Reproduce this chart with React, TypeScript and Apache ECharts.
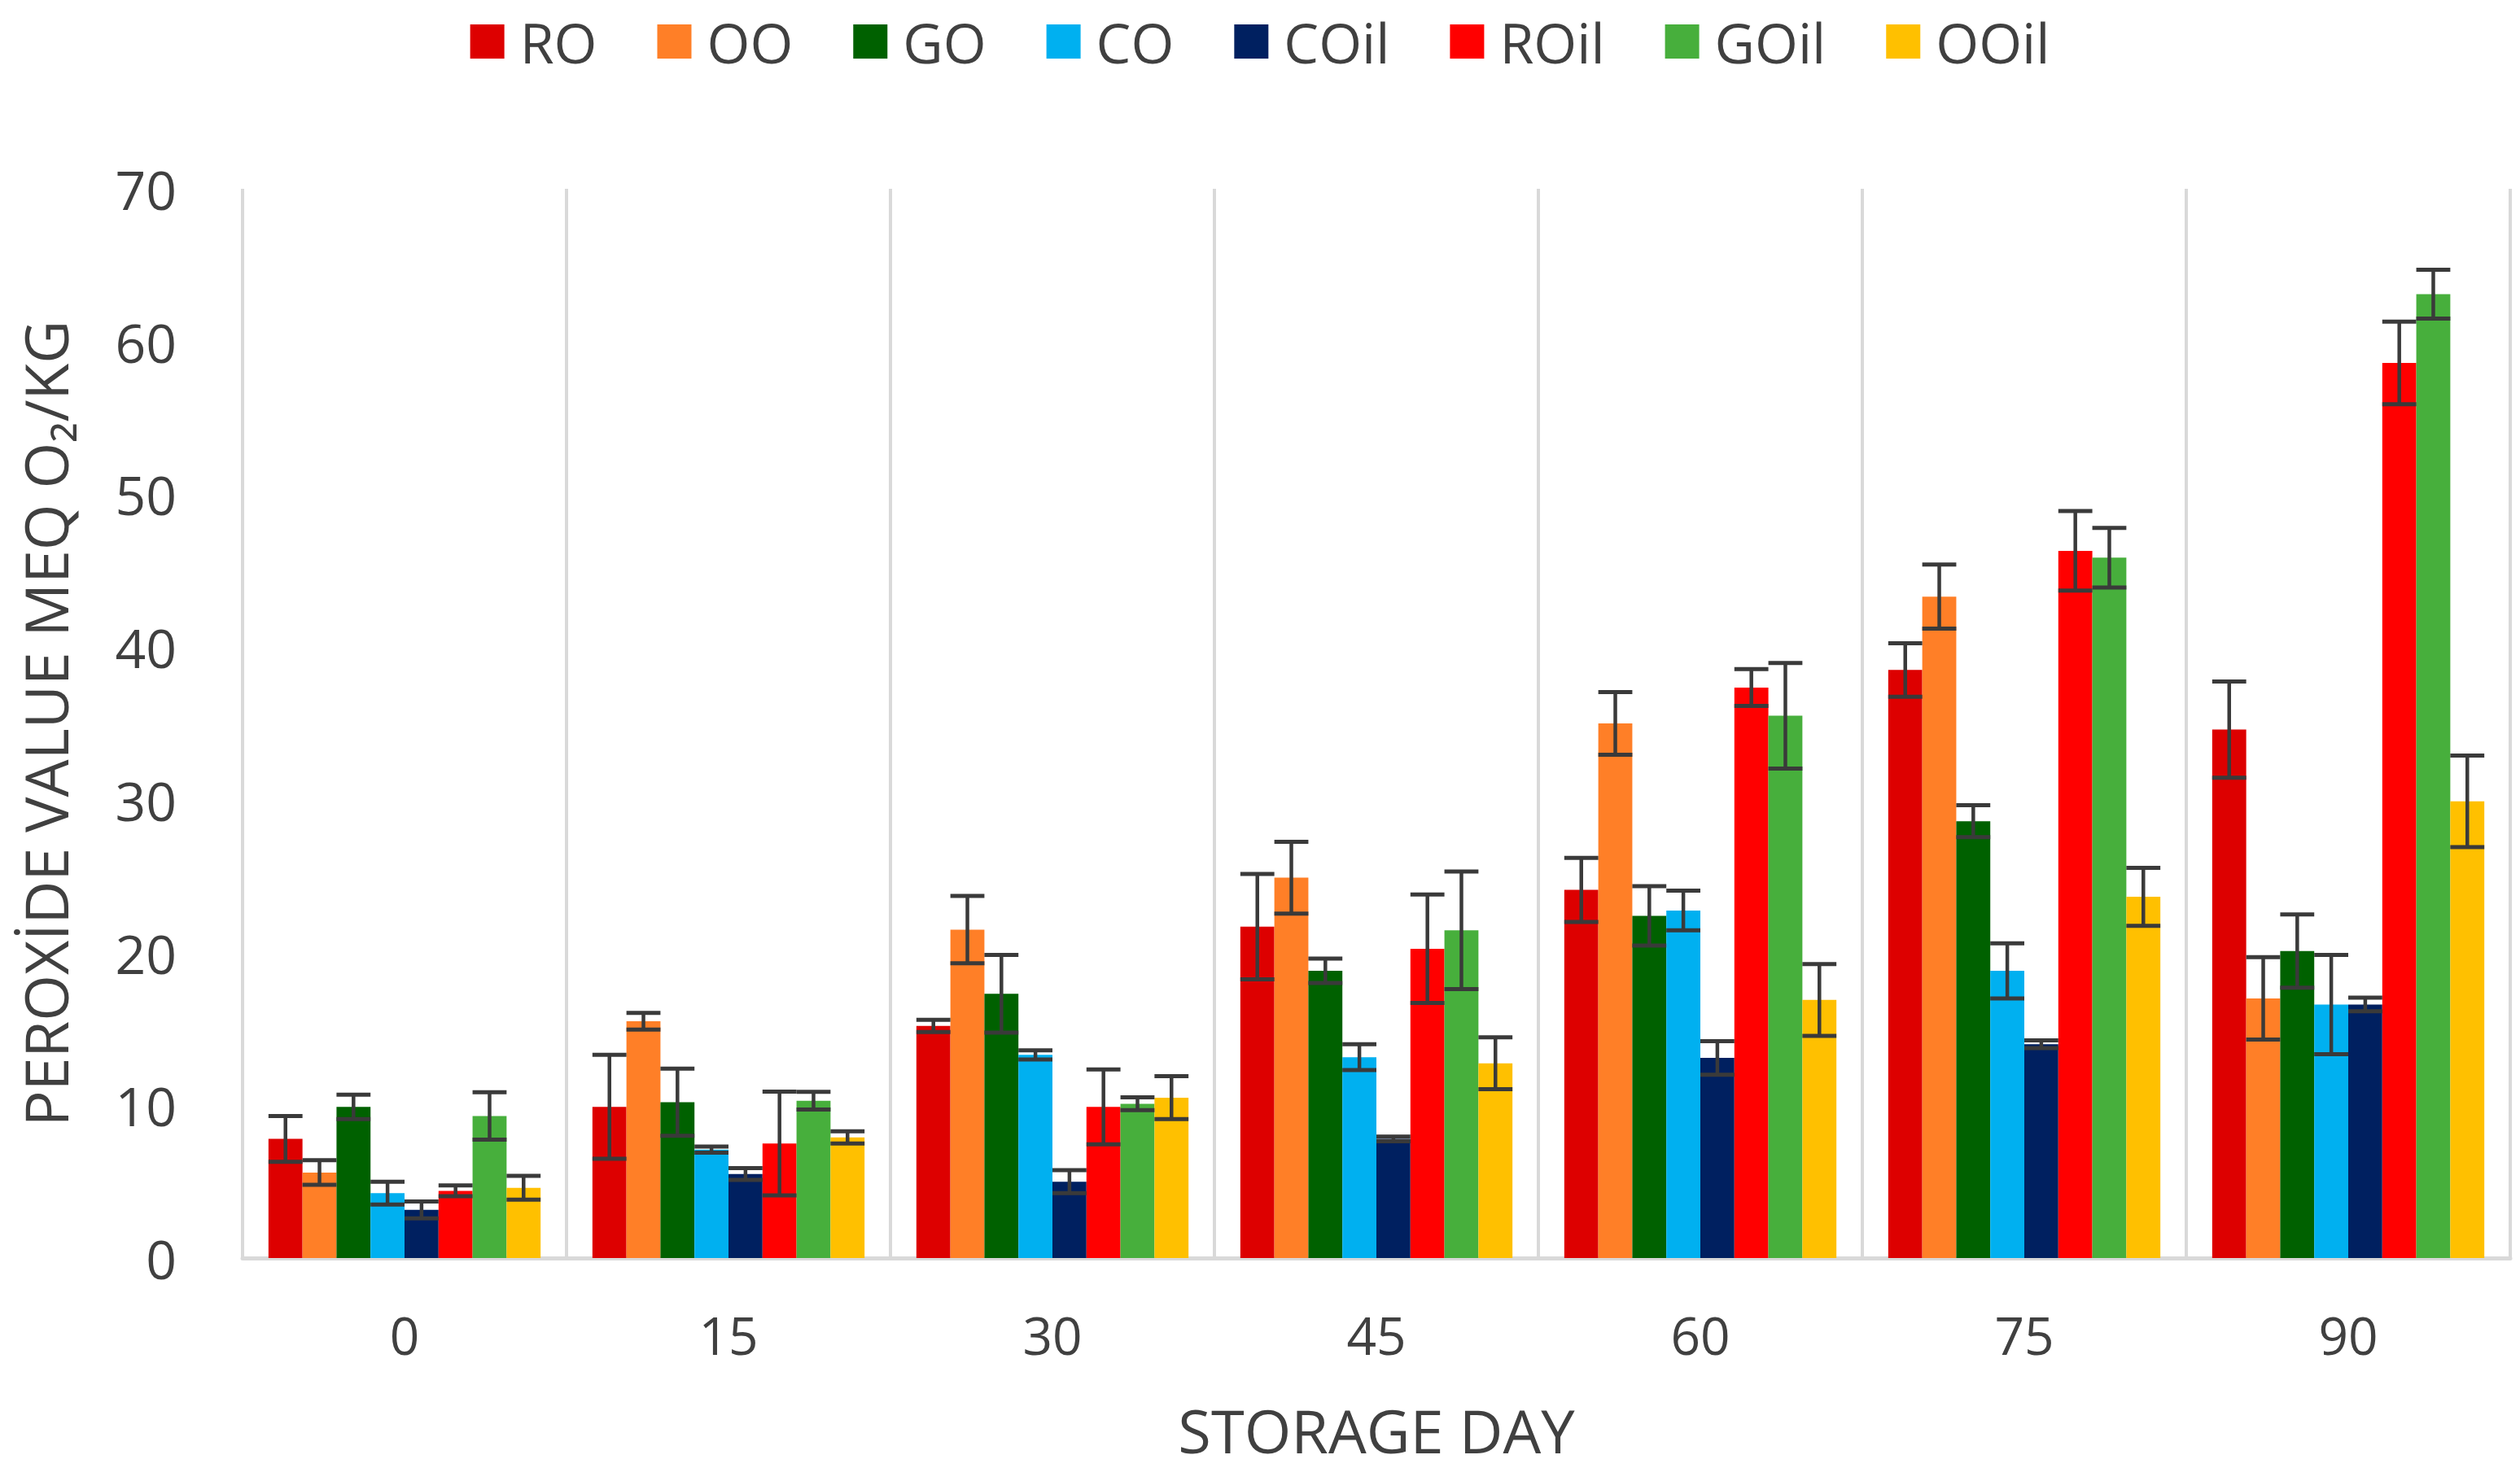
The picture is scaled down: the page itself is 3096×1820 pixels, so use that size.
import React, { useEffect, useRef } from 'react';
import * as echarts from 'echarts';

const categories = ['0', '15', '30', '45', '60', '75', '90'];
const seriesNames = ['RO', 'OO', 'GO', 'CO', 'COil', 'ROil', 'GOil', 'OOil'];
const colors = ['#DD0000', '#FF7F27', '#006100', '#00B0F0', '#002060', '#FF0000', '#47AF3C', '#FFC000'];

const RO = [7.8, 9.9, 15.2, 21.7, 24.1, 38.5, 34.6];
const OO = [5.6, 15.5, 21.5, 24.9, 35.0, 43.3, 17.0];
const GO = [9.9, 10.2, 17.3, 18.8, 22.4, 28.6, 20.1];
const CO = [4.25, 7.1, 13.3, 13.15, 22.75, 18.8, 16.6];
const COil = [3.15, 5.5, 5.0, 7.8, 13.1, 14.0, 16.6];
const ROil = [4.4, 7.5, 9.9, 20.25, 37.35, 46.3, 58.6];
const GOil = [9.3, 10.3, 10.1, 21.45, 35.5, 45.85, 63.1];
const OOil = [4.6, 7.9, 10.5, 12.75, 16.9, 23.65, 29.9];

const RO_err = [1.5, 3.4, 0.4, 3.45, 2.1, 1.75, 3.15];
const OO_err = [0.8, 0.55, 2.2, 2.35, 2.05, 2.1, 2.7];
const GO_err = [0.8, 2.2, 2.55, 0.8, 1.95, 1.05, 2.4];
const CO_err = [0.75, 0.2, 0.3, 0.85, 1.3, 1.8, 3.25];
const COil_err = [0.55, 0.38, 0.75, 0.15, 1.1, 0.25, 0.45];
const ROil_err = [0.35, 3.4, 2.45, 3.55, 1.2, 2.6, 2.7];
const GOil_err = [1.55, 0.58, 0.42, 3.85, 3.45, 1.95, 1.6];
const OOil_err = [0.78, 0.4, 1.4, 1.7, 2.35, 1.9, 3.0];

const yTicks = { min: 0, max: 70, interval: 10 };

const values = [RO, OO, GO, CO, COil, ROil, GOil, OOil];
const errors = [RO_err, OO_err, GO_err, CO_err, COil_err, ROil_err, GOil_err, OOil_err];

const FONT = "'Open Sans', sans-serif";
const TEXT = '#404040';
const CAT_GAP = 0.16;

export default function App() {
  const ref = useRef<HTMLDivElement>(null);
  useEffect(() => {
    const chart = echarts.init(ref.current!, null, { renderer: 'svg' });
    const n = seriesNames.length;
    const barSeries = seriesNames.map((name, i) => ({
      name,
      type: 'bar',
      data: values[i],
      itemStyle: { color: colors[i] },
      barGap: '0%',
      barCategoryGap: CAT_GAP * 100 + '%',
      z: 2,
    }));
    const errData: number[][] = [];
    seriesNames.forEach((_, s) =>
      categories.forEach((_, c) => errData.push([c, values[s][c], errors[s][c], s]))
    );
    const errSeries = {
      type: 'custom',
      name: 'errorbars',
      data: errData,
      encode: { x: 0, y: 1 },
      z: 10,
      silent: true,
      renderItem: (params: any, api: any) => {
        const c = api.value(0);
        const v = api.value(1);
        const e = api.value(2);
        const s = api.value(3);
        const band = api.size([1, 0])[0];
        const groupW = band * (1 - CAT_GAP);
        const bw = groupW / n;
        const center = api.coord([c, v]);
        const x = center[0] - groupW / 2 + bw * (s + 0.5);
        const yTop = api.coord([c, v + e])[1];
        const yBot = api.coord([c, v - e])[1];
        const half = bw / 2;
        const stroke = '#3a3a3a';
        return {
          type: 'group',
          children: [
            { type: 'line', shape: { x1: x, y1: yTop, x2: x, y2: yBot }, style: { stroke, lineWidth: 4.5 } },
            { type: 'line', shape: { x1: x - half, y1: yTop, x2: x + half, y2: yTop }, style: { stroke, lineWidth: 5 } },
            { type: 'line', shape: { x1: x - half, y1: yBot, x2: x + half, y2: yBot }, style: { stroke, lineWidth: 5 } },
          ],
        };
      },
    };
    chart.setOption({
      animation: false,
      backgroundColor: '#ffffff',
      textStyle: { fontFamily: FONT },
      legend: {
        data: seriesNames,
        top: 12,
        left: 'center',
        icon: 'rect',
        itemWidth: 42,
        itemHeight: 42,
        itemGap: 74,
        textStyle: { fontSize: 68, color: TEXT, fontFamily: FONT, padding: [0, 0, 0, 14] },
      },
      grid: { left: 298, right: 12, top: 232, bottom: 274, containLabel: false },
      xAxis: {
        type: 'category',
        data: categories,
        axisLine: { show: true, lineStyle: { color: '#d9d9d9', width: 5 } },
        axisTick: { show: false },
        axisLabel: { fontSize: 64, color: TEXT, margin: 62, fontFamily: FONT },
        splitLine: { show: true, lineStyle: { color: '#d9d9d9', width: 4 } },
        name: 'STORAGE DAY',
        nameLocation: 'middle',
        nameGap: 174,
        nameTextStyle: { fontSize: 74, color: TEXT, fontFamily: FONT },
      },
      yAxis: {
        type: 'value',
        min: yTicks.min,
        max: yTicks.max,
        interval: yTicks.interval,
        axisLine: { show: false },
        axisTick: { show: false },
        splitLine: { show: false },
        axisLabel: { fontSize: 66, color: TEXT, margin: 81, fontFamily: FONT },
        name: 'PEROXİDE VALUE MEQ O₂/KG',
        nameLocation: 'middle',
        nameRotate: 90,
        nameGap: 206,
        nameTextStyle: { fontSize: 73, color: TEXT, fontFamily: FONT },
      },
      series: [...barSeries, errSeries],
    });
    return () => chart.dispose();
  }, []);
  return (
    <div
      ref={ref}
      style={{ position: 'fixed', left: 0, top: 0, width: 3096, height: 1820, background: '#fff' }}
    />
  );
}
